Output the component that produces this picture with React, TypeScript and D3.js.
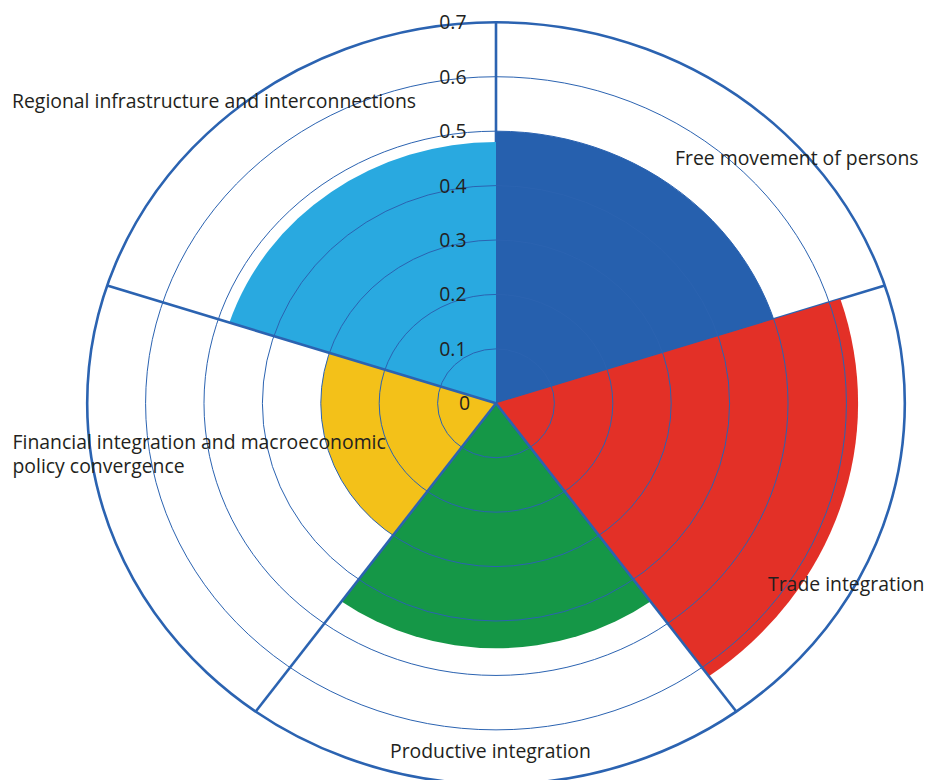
import React from 'react';
import * as d3 from 'd3';

// ---- data ----
const categories: string[] = [
  'Free movement of persons',
  'Trade integration',
  'Productive integration',
  'Financial integration and macroeconomic policy convergence',
  'Regional infrastructure and interconnections',
];
const values: number[] = [0.5, 0.62, 0.45, 0.3, 0.48];
const tickValues: number[] = [0, 0.1, 0.2, 0.3, 0.4, 0.5, 0.6, 0.7];
const tickLabels: string[] = ['0', '0.1', '0.2', '0.3', '0.4', '0.5', '0.6', '0.7'];
const categoryLabelLines: string[][] = [
  ['Free movement of persons'],
  ['Trade integration'],
  ['Productive integration'],
  ['Financial integration and macroeconomic', 'policy convergence'],
  ['Regional infrastructure and interconnections'],
];

// ---- styles / layout ----
const colors = ['#2660ae', '#e33027', '#159747', '#f3c119', '#29a9e0'];
const lineColor = '#2b63b1';
const textColor = '#231f20';
const W = 926;
const H = 780;
const cx = 496;
const cy = 403.3;
const R = 381;
const sx = 1.073;
const fontFamily = "'Open Sans', sans-serif";
const fontSize = 19.4;
const labelLayout = [
  { x: 675, y: 165 },
  { x: 768, y: 591 },
  { x: 390, y: 757.7 },
  { x: 12.5, y: 449.3 },
  { x: 12, y: 108.3 },
];

export default function App() {
  const rScale = d3.scaleLinear().domain([0, 0.7]).range([0, R]);
  const n = categories.length;
  const step = (2 * Math.PI) / n;
  const arc = d3.arc<any>();
  const maxV = tickValues[tickValues.length - 1];

  const radial = (i: number, under: boolean) => {
    const a = i * step;
    const r = rScale(maxV);
    return (
      <line
        key={`rad-${i}-${under}`}
        x1={0}
        y1={0}
        x2={Math.sin(a) * r}
        y2={-Math.cos(a) * r}
        stroke={lineColor}
        strokeWidth={2.6}
        vectorEffect="non-scaling-stroke"
      />
    );
  };

  return (
    <svg
      width={W}
      height={H}
      style={{ position: 'absolute', left: 0, top: 0, background: '#fff' }}
    >
      <g transform={`translate(${cx},${cy}) scale(${sx},1)`}>
        {/* radial lines lying under the sectors */}
        {[0, 1].map((i) => radial(i, true))}
        {values.map((v, i) => (
          <path
            key={`sec-${i}`}
            d={
              arc({
                innerRadius: 0,
                outerRadius: rScale(v),
                startAngle: i * step,
                endAngle: (i + 1) * step,
              }) as string
            }
            fill={colors[i]}
          />
        ))}
        {tickValues
          .filter((t) => t > 0)
          .map((t, k, arr) => (
            <circle
              key={`grid-${t}`}
              r={rScale(t)}
              fill="none"
              stroke={lineColor}
              strokeWidth={k === arr.length - 1 ? 2.6 : 1}
              vectorEffect="non-scaling-stroke"
            />
          ))}
        {/* radial lines drawn above the sectors */}
        {[2, 3, 4].map((i) => radial(i, false))}
      </g>
      {/* radial tick labels */}
      {tickValues.map((t, k) => (
        <text
          key={`tl-${t}`}
          x={t === 0 ? cx - 26 : cx - 29.5}
          y={cy - rScale(t) + 7}
          textAnchor="end"
          fontFamily={fontFamily}
          fontSize={fontSize}
          fill={textColor}
        >
          {tickLabels[k]}
        </text>
      ))}
      {/* category labels */}
      {categoryLabelLines.map((lines, i) => (
        <text
          key={`cl-${i}`}
          x={labelLayout[i].x}
          y={labelLayout[i].y}
          fontFamily={fontFamily}
          fontSize={fontSize}
          fill={textColor}
        >
          {lines.map((ln, j) => (
            <tspan key={j} x={labelLayout[i].x} dy={j === 0 ? 0 : 24}>
              {ln}
            </tspan>
          ))}
        </text>
      ))}
    </svg>
  );
}
